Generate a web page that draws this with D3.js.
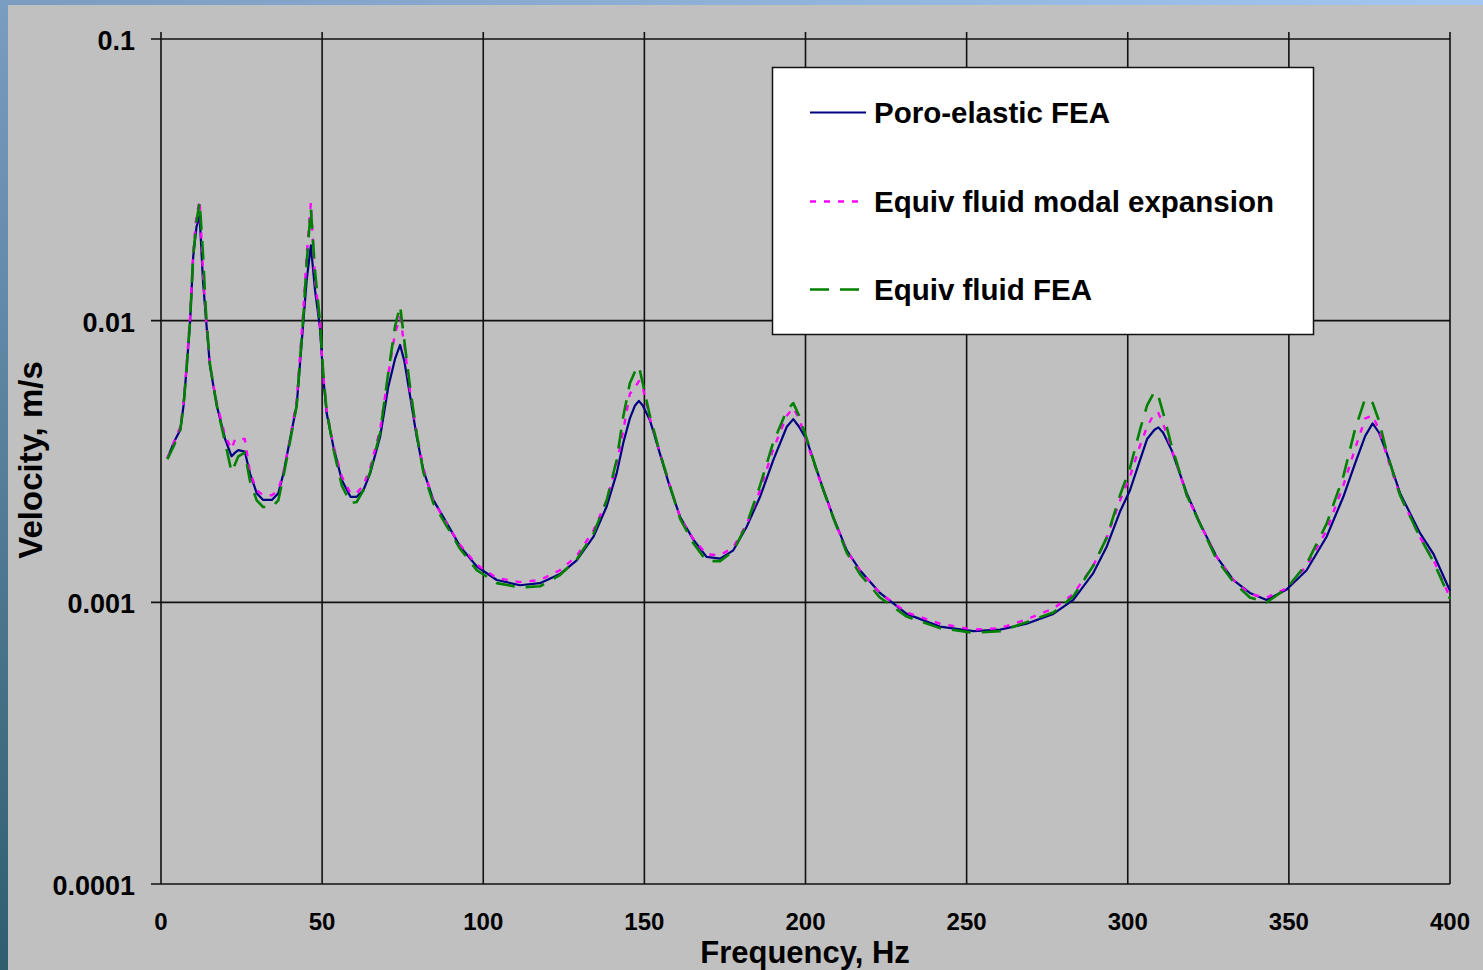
<!DOCTYPE html>
<html>
<head>
<meta charset="utf-8">
<script src="https://cdn.jsdelivr.net/npm/d3@7"></script>
<style>
  html, body { margin: 0; padding: 0; background: #c0c0c0; }
  svg { display: block; }
</style>
</head>
<body>
<div id="chart"></div>
<script>
// frequency grid (Hz) shared by all three curves
const freqs = [2, 4, 6, 7, 8, 9, 10, 11, 12, 13, 14, 15.2, 17.3, 19.9, 21.9, 23, 24, 26, 27.6, 29.7,
  31.7, 34.4, 36.4, 38, 40, 42.1, 44.2, 45.2, 46.5, 47.8, 49.3, 50.4, 51.4, 53.5, 56.1, 58.8, 60.7,
  62.8, 64.9, 68, 70.5, 72.6, 74.2, 75.5, 77.3, 79.3, 81.4, 84.5, 88.7, 92.8, 98, 104.2, 111.4,
  117.6, 123.8, 129, 134.2, 138.3, 141.4, 143.5, 145.5, 147.1, 148.3, 149.5, 151.7, 154.8, 157.9,
  161.1, 165.2, 169.3, 173.5, 177.6, 181.8, 185.9, 190, 194.2, 196.2, 198, 200.4, 204.5, 208.6,
  212.8, 216.9, 223.1, 231.4, 241.7, 252.1, 260.4, 268.6, 276.9, 283.1, 289.3, 293.5, 297.6,
  300.7, 303.8, 306, 308.3, 309.5, 311, 313.6, 318.3, 322.4, 327.6, 332.8, 337.9, 343.1, 349.3,
  355.5, 361.7, 366.9, 370.5, 373.7, 376, 378, 380.4, 384.5, 390.7, 394.8, 400];

// Poro-elastic FEA (m/s)
const poroFEA = [0.00325, 0.0037, 0.0041, 0.0050, 0.0069, 0.0098, 0.0169, 0.0215, 0.0235, 0.0140, 0.0100, 0.0069, 0.0050, 0.0038, 0.0033, 0.0034, 0.00347, 0.00343, 0.00287, 0.00244,
  0.00231, 0.00231, 0.00244, 0.00287, 0.00377, 0.0050, 0.0100, 0.0139, 0.0185, 0.0128, 0.0095, 0.0062, 0.0047, 0.00357, 0.00272, 0.00237, 0.00237,
  0.0025, 0.00287, 0.00387, 0.0058, 0.0073, 0.0082, 0.0072, 0.0054, 0.0039, 0.00295, 0.00231, 0.00191, 0.00158, 0.00134, 0.0012, 0.00115,
  0.00117, 0.00126, 0.00141, 0.00171, 0.00219, 0.00287, 0.0037, 0.0045, 0.0050, 0.00519, 0.0050, 0.00444, 0.00338, 0.00257,
  0.00201, 0.00167, 0.00145, 0.00143, 0.00153, 0.00186, 0.00237, 0.0032, 0.0042, 0.00447, 0.0042, 0.00377, 0.00272, 0.00201,
  0.00153, 0.0013, 0.00108, 0.00091, 0.00082, 0.00079, 0.0008, 0.00084, 0.00091, 0.00102, 0.00127, 0.00158, 0.0021,
  0.0025, 0.0032, 0.0038, 0.0041, 0.00418, 0.0040, 0.00347, 0.00244, 0.00191, 0.00145, 0.0012, 0.00108, 0.00102, 0.00111,
  0.0013, 0.00171, 0.00237, 0.0031, 0.0039, 0.00432, 0.0040, 0.00338, 0.00244, 0.00176, 0.00149, 0.0011];

// Equiv fluid modal expansion (m/s)
const modalExp = [0.00325, 0.0037, 0.0042, 0.0051, 0.0071, 0.0102, 0.0175, 0.0235, 0.0268, 0.0150, 0.0100, 0.0069, 0.0051, 0.0039, 0.0035, 0.0038, 0.0038, 0.0038, 0.0029, 0.0025,
  0.0024, 0.0024, 0.0025, 0.0029, 0.0038, 0.0052, 0.0110, 0.0170, 0.0262, 0.0140, 0.0098, 0.0063, 0.0048, 0.0036, 0.0028, 0.00244, 0.00244,
  0.0026, 0.0030, 0.0041, 0.0064, 0.0090, 0.0103, 0.0082, 0.0056, 0.0040, 0.0030, 0.0023, 0.0019, 0.0016, 0.00136, 0.00122, 0.00118,
  0.0012, 0.0013, 0.00146, 0.0018, 0.0023, 0.0031, 0.0041, 0.0055, 0.0058, 0.0061, 0.0058, 0.0045, 0.0034, 0.0026,
  0.0020, 0.00168, 0.00148, 0.00147, 0.00157, 0.0019, 0.0025, 0.0035, 0.0046, 0.0049, 0.0045, 0.0037, 0.0027, 0.0020,
  0.00152, 0.0013, 0.00108, 0.00092, 0.00084, 0.0008, 0.00081, 0.00087, 0.00095, 0.00107, 0.00135, 0.0017, 0.0023,
  0.0028, 0.0036, 0.0042, 0.0047, 0.0047, 0.0043, 0.0035, 0.0024, 0.0019, 0.00145, 0.0012, 0.00107, 0.00104, 0.00112,
  0.00135, 0.0018, 0.0026, 0.0035, 0.0045, 0.0046, 0.0041, 0.0033, 0.0024, 0.0017, 0.00142, 0.00104];

// Equiv fluid FEA (m/s)
const fluidFEA = [0.00322, 0.0036, 0.0041, 0.0050, 0.0069, 0.0099, 0.0170, 0.0225, 0.0264, 0.0175, 0.0105, 0.0070, 0.0050, 0.0037, 0.0029, 0.0031, 0.0033, 0.0034, 0.0027, 0.0023,
  0.00218, 0.00218, 0.0023, 0.0028, 0.0037, 0.0050, 0.0105, 0.0160, 0.0250, 0.0150, 0.0100, 0.0064, 0.0048, 0.0035, 0.0026, 0.00225, 0.00227,
  0.0025, 0.0029, 0.0040, 0.0065, 0.0095, 0.0113, 0.0085, 0.0058, 0.0040, 0.0029, 0.00225, 0.00186, 0.00155, 0.0013, 0.00117, 0.00113,
  0.00114, 0.00125, 0.00142, 0.00175, 0.0023, 0.0032, 0.0046, 0.0060, 0.0066, 0.0069, 0.0060, 0.0046, 0.0034, 0.0026,
  0.00198, 0.00162, 0.0014, 0.0014, 0.00152, 0.0019, 0.0026, 0.0037, 0.0048, 0.0051, 0.0046, 0.0038, 0.0027, 0.0020,
  0.0015, 0.00126, 0.00104, 0.00089, 0.00081, 0.00078, 0.00079, 0.00085, 0.00092, 0.00105, 0.00135, 0.0017, 0.0024,
  0.0030, 0.0041, 0.0050, 0.0056, 0.0054, 0.0047, 0.0036, 0.0024, 0.0019, 0.00142, 0.00118, 0.00104, 0.0010, 0.00112,
  0.00137, 0.0019, 0.0028, 0.0041, 0.0053, 0.0051, 0.0044, 0.0034, 0.0024, 0.0017, 0.0014, 0.00103];

const xTicks = [0, 50, 100, 150, 200, 250, 300, 350, 400];
const yTicks = [0.0001, 0.001, 0.01, 0.1];
const yTickLabels = ["0.0001", "0.001", "0.01", "0.1"];
const seriesNames = ["Poro-elastic FEA", "Equiv fluid modal expansion", "Equiv fluid FEA"];

var width = 1483, height = 970;
var font = "'Liberation Sans', Arial, sans-serif";

const svg = d3.select("#chart")
    .append("svg")
    .attr("width", width)
    .attr("height", height)

// background strips (slide frame)
var defs = svg.append("defs")
var topGrad = defs.append("linearGradient").attr("id", "topGrad")
topGrad.append("stop").attr("offset", "0%").attr("stop-color", "#7b9cc0")
topGrad.append("stop").attr("offset", "100%").attr("stop-color", "#a3c7f2")
var leftGrad = defs.append("linearGradient").attr("id", "leftGrad")
    .attr("x1", 0).attr("y1", 0).attr("x2", 0).attr("y2", 1)
leftGrad.append("stop").attr("offset", "0%").attr("stop-color", "#7a9dc2")
leftGrad.append("stop").attr("offset", "100%").attr("stop-color", "#2f5e6f")

svg.append("rect").attr("width", width).attr("height", height).attr("fill", "#c0c0c0")
svg.append("rect").attr("width", width).attr("height", 5).attr("fill", "url(#topGrad)")
svg.append("rect").attr("width", 8).attr("height", height).attr("fill", "url(#leftGrad)")

var x = d3.scaleLinear()
    .domain([0, 400])
    .range([161, 1450]);

var y = d3.scaleLog()
    .domain([0.0001, 0.1])
    .range([884, 39]);

// grid
var grid = svg.append("g").attr("stroke", "#111").attr("stroke-width", 1.6)
grid.selectAll("line.v")
    .data(xTicks)
    .enter()
    .append("line")
    .attr("class", "v")
    .attr("x1", d => x(d)).attr("x2", d => x(d))
    .attr("y1", y(0.1) - 7).attr("y2", y(0.0001))
grid.selectAll("line.h")
    .data(yTicks)
    .enter()
    .append("line")
    .attr("class", "h")
    .attr("x1", x(0) - 10).attr("x2", x(400))
    .attr("y1", d => y(d)).attr("y2", d => y(d))

// axis labels
svg.append("g")
    .selectAll("text")
    .data(yTicks)
    .enter()
    .append("text")
    .attr("x", 135)
    .attr("y", d => y(d) + 11)
    .attr("text-anchor", "end")
    .attr("font-family", font)
    .attr("font-weight", "bold")
    .attr("font-size", 27)
    .text((d, i) => yTickLabels[i])

svg.append("g")
    .selectAll("text")
    .data(xTicks)
    .enter()
    .append("text")
    .attr("x", d => x(d))
    .attr("y", 930)
    .attr("text-anchor", "middle")
    .attr("font-family", font)
    .attr("font-weight", "bold")
    .attr("font-size", 24)
    .text(d => d)

svg.append("text")
    .attr("x", 805).attr("y", 963)
    .attr("text-anchor", "middle")
    .attr("font-family", font)
    .attr("font-weight", "bold")
    .attr("font-size", 31)
    .text("Frequency, Hz")

svg.append("text")
    .attr("transform", "translate(42,460) rotate(-90)")
    .attr("text-anchor", "middle")
    .attr("font-family", font)
    .attr("font-weight", "bold")
    .attr("font-size", 33)
    .text("Velocity, m/s")

// series
var styles = [
    { color: "#000080", width: 2.2, dash: null },
    { color: "#ff00ff", width: 2.4, dash: "6,8" },
    { color: "#008000", width: 2.6, dash: "19,11" }
];
var seriesVals = [poroFEA, modalExp, fluidFEA];

var line = d3.line()
    .x(d => x(d[0]))
    .y(d => y(d[1]));

var plot = svg.append("g")
seriesVals.forEach(function(vals, i) {
    plot.append("path")
        .datum(freqs.map((f, j) => [f, vals[j]]))
        .attr("fill", "none")
        .attr("stroke", styles[i].color)
        .attr("stroke-width", styles[i].width)
        .attr("stroke-dasharray", styles[i].dash)
        .attr("stroke-linejoin", "round")
        .attr("d", line)
});

// legend
var legend = svg.append("g")
legend.append("rect")
    .attr("x", 772.5).attr("y", 67.5)
    .attr("width", 541).attr("height", 267)
    .attr("fill", "#fff")
    .attr("stroke", "#111")
    .attr("stroke-width", 1.5)

var rowY = [112.5, 201.5, 289.5];
seriesNames.forEach(function(name, i) {
    legend.append("line")
        .attr("x1", 810).attr("x2", 866)
        .attr("y1", rowY[i]).attr("y2", rowY[i])
        .attr("stroke", styles[i].color)
        .attr("stroke-width", styles[i].width)
        .attr("stroke-dasharray", styles[i].dash)
    legend.append("text")
        .attr("x", 874).attr("y", rowY[i] + 10)
        .attr("font-family", font)
        .attr("font-weight", "bold")
        .attr("font-size", 29.5)
        .text(name)
});
</script>
</body>
</html>
